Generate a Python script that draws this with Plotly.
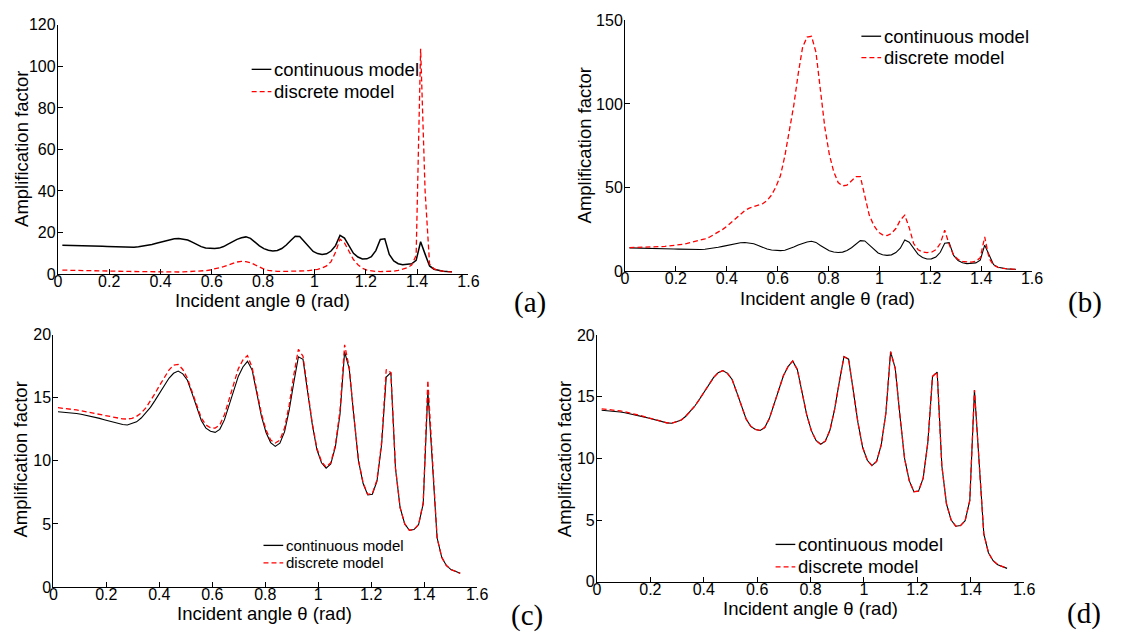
import numpy as np
import plotly.graph_objects as go

# Incident angles sampled every degree (1..88 deg), plotted in radians
angles_deg = list(range(1, 89))
theta = np.radians(angles_deg)

# Continuous model amplification factor (shared by all four panels)
continuous = [
    13.90, 13.88, 13.85, 13.81, 13.76, 13.70, 13.63, 13.55, 13.46, 13.37,
    13.27, 13.17, 13.07, 12.97, 12.88, 12.85, 12.95, 13.10, 13.40, 13.80,
    14.25, 14.80, 15.40, 16.00, 16.55, 16.95, 17.12, 16.90, 16.40, 15.35,
    14.25, 13.20, 12.60, 12.35, 12.26, 12.50, 13.25, 14.40, 15.70, 16.70,
    17.45, 17.90, 17.20, 15.30, 13.55, 12.25, 11.45, 11.15, 11.40, 12.30,
    14.00, 16.20, 18.25, 18.05, 15.50, 12.90, 10.90, 9.85, 9.42, 9.75,
    11.10, 13.70, 18.65, 17.30, 13.50, 10.00, 8.20, 7.30, 7.35, 8.40,
    11.30, 16.65, 17.00, 9.40, 6.30, 5.00, 4.50, 4.55, 4.95, 6.60,
    15.55, 9.60, 3.90, 2.35, 1.70, 1.38, 1.20, 1.08,
]

# Discrete model, panel (a)
discrete_a = [
    1.90, 1.88, 1.85, 1.82, 1.78, 1.74, 1.70, 1.65, 1.60, 1.55,
    1.50, 1.45, 1.40, 1.35, 1.30, 1.25, 1.20, 1.15, 1.10, 1.05,
    1.00, 0.97, 0.95, 0.94, 0.95, 0.97, 1.00, 1.05, 1.12, 1.20,
    1.30, 1.45, 1.65, 1.95, 2.40, 3.00, 3.60, 4.30, 5.10, 5.80,
    6.10, 6.00, 5.50, 4.50, 3.30, 2.40, 1.80, 1.45, 1.30, 1.25,
    1.25, 1.30, 1.35, 1.45, 1.55, 1.70, 1.90, 2.30, 3.00, 3.90,
    6.00, 10.50, 16.80, 15.00, 11.00, 7.00, 4.50, 2.80, 1.90, 1.50,
    1.30, 1.20, 1.15, 1.20, 1.40, 1.80, 2.40, 3.00, 4.30, 9.00,
    108.5, 40.00, 4.80, 2.50, 1.70, 1.35, 1.15, 1.05,
]

# Discrete model, panel (b)
discrete_b = [
    14.10, 14.12, 14.15, 14.20, 14.27, 14.35, 14.50, 14.65, 14.85, 15.05,
    15.30, 15.60, 16.00, 16.60, 17.20, 17.90, 18.70, 19.30, 20.30, 21.70,
    23.30, 25.00, 27.00, 29.20, 31.50, 34.00, 36.30, 37.70, 38.60, 39.20,
    40.30, 42.30, 45.50, 50.50, 57.00, 69.00, 84.00, 99.00, 118.0, 134.0,
    140.0, 140.5, 131.0, 108.0, 86.00, 70.00, 59.50, 53.00, 51.00, 51.50,
    54.00, 56.50, 56.50, 45.50, 33.50, 27.50, 23.50, 21.70, 21.30, 22.50,
    25.50, 30.50, 33.50, 26.00, 16.50, 12.80, 11.40, 11.10, 11.30, 12.80,
    16.50, 24.50, 16.00, 9.50, 7.00, 5.80, 5.40, 5.40, 5.90, 8.00,
    20.50, 7.50, 3.60, 2.30, 1.70, 1.35, 1.15, 1.05,
]

# Discrete model, panel (c)
discrete_c = [
    14.22, 14.19, 14.15, 14.10, 14.04, 13.97, 13.90, 13.82, 13.74, 13.66,
    13.58, 13.50, 13.43, 13.37, 13.33, 13.32, 13.38, 13.53, 13.80, 14.20,
    14.75, 15.35, 16.00, 16.65, 17.20, 17.60, 17.65, 17.25, 16.55, 15.50,
    14.40, 13.40, 12.85, 12.62, 12.60, 12.85, 13.65, 14.85, 16.20, 17.30,
    18.00, 18.35, 17.40, 15.45, 13.75, 12.45, 11.65, 11.42, 11.65, 12.60,
    14.40, 16.80, 18.85, 18.30, 15.60, 13.00, 11.00, 9.95, 9.50, 9.85,
    11.25, 14.00, 19.20, 17.40, 13.60, 10.05, 8.25, 7.35, 7.40, 8.50,
    11.50, 17.25, 17.00, 9.45, 6.30, 5.00, 4.50, 4.55, 4.95, 6.70,
    16.40, 9.70, 3.90, 2.35, 1.70, 1.38, 1.20, 1.08,
]

# Discrete model, panel (d)
discrete_d = [
    14.02, 13.99, 13.95, 13.90, 13.85, 13.78, 13.70, 13.61, 13.51, 13.41,
    13.30, 13.19, 13.08, 12.98, 12.89, 12.85, 12.95, 13.10, 13.40, 13.80,
    14.25, 14.80, 15.40, 16.00, 16.55, 16.95, 17.12, 16.90, 16.40, 15.35,
    14.25, 13.20, 12.60, 12.35, 12.26, 12.50, 13.25, 14.40, 15.70, 16.70,
    17.45, 17.90, 17.20, 15.30, 13.55, 12.25, 11.45, 11.15, 11.40, 12.30,
    14.00, 16.20, 18.25, 18.05, 15.50, 12.90, 10.90, 9.85, 9.42, 9.75,
    11.10, 13.70, 18.65, 17.30, 13.50, 10.00, 8.20, 7.30, 7.35, 8.40,
    11.30, 16.65, 17.00, 9.40, 6.30, 5.00, 4.50, 4.55, 4.95, 6.60,
    15.55, 9.60, 3.90, 2.35, 1.70, 1.38, 1.20, 1.08,
]

x_ticks = [0, 0.2, 0.4, 0.6, 0.8, 1.0, 1.2, 1.4, 1.6]
x_tick_labels = ["0", "0.2", "0.4", "0.6", "0.8", "1", "1.2", "1.4", "1.6"]
y_ticks_a = [0, 20, 40, 60, 80, 100, 120]
y_ticks_b = [0, 50, 100, 150]
y_ticks_cd = [0, 5, 10, 15, 20]

legend_names = ["continuous model", "discrete model"]
panel_tags = ["(a)", "(b)", "(c)", "(d)"]

W, H = 1124, 642
SANS = "Liberation Sans, Arial, Helvetica, sans-serif"
SERIF = "Liberation Serif, Times New Roman, serif"
TICK_SIZE = 16
TITLE_SIZE = 18.5


def px_x(p):
    return p / W


def px_y(p):
    return 1 - p / H


# Plot areas in pixels: (left, right, top, bottom)
boxes = [
    (54.6, 470.7, 17.3, 273.3),
    (629.4, 1042.0, 12.7, 270.3),
    (50.0, 479.6, 335.7, 594.7),
    (601.0, 1034.0, 336.0, 589.3),
]
y_ranges = [[0, 120], [0, 150], [0, 20], [0, 20]]
y_tick_sets = [y_ticks_a, y_ticks_b, y_ticks_cd, y_ticks_cd]
discretes = [discrete_a, discrete_b, discrete_c, discrete_d]
black_widths = [1.5, 1.1, 1.1, 1.1]

fig = go.Figure()
layout = dict(
    width=W, height=H,
    margin=dict(l=0, r=0, t=0, b=0),
    paper_bgcolor="white", plot_bgcolor="white",
    showlegend=False,
    font=dict(family=SANS, color="black"),
)

for i in range(4):
    n = "" if i == 0 else str(i + 1)
    left, right, top, bottom = boxes[i]
    layout["xaxis" + n] = dict(
        domain=[px_x(left), px_x(right)], anchor="y" + n,
        range=[0, 1.6], tickvals=x_ticks, ticktext=x_tick_labels,
        showline=True, linecolor="black", linewidth=1,
        ticks="inside", ticklen=5, tickcolor="black", tickwidth=1,
        showgrid=False, zeroline=False, ticklabelstandoff=-7,
        tickfont=dict(family=SANS, size=TICK_SIZE, color="black"),
    )
    layout["yaxis" + n] = dict(
        domain=[px_y(bottom), px_y(top)], anchor="x" + n,
        range=y_ranges[i], tickvals=y_tick_sets[i],
        showline=True, linecolor="black", linewidth=1,
        ticks="inside", ticklen=5, tickcolor="black", tickwidth=1,
        showgrid=False, zeroline=False, ticklabelstandoff=-2,
        tickfont=dict(family=SANS, size=TICK_SIZE, color="black"),
    )
    fig.add_trace(go.Scatter(
        x=theta, y=continuous, mode="lines", name=legend_names[0],
        xaxis="x" + n, yaxis="y" + n,
        line=dict(color="black", width=black_widths[i]),
    ))
    fig.add_trace(go.Scatter(
        x=theta, y=discretes[i], mode="lines", name=legend_names[1],
        xaxis="x" + n, yaxis="y" + n,
        line=dict(color="red", width=1.3, dash="5px,3px"),
    ))

fig.update_layout(**layout)

annotations = []
shapes = []

# Axis titles
x_title_pos = [(262.5, 300), (835, 298), (264, 622), (817, 617)]
y_title_pos = [(17, 145), (588, 141), (17, 464), (568, 463)]
for (cx, cy) in x_title_pos:
    annotations.append(dict(
        text="Incident angle θ (rad)", x=px_x(cx), y=px_y(cy),
        xref="paper", yref="paper", xanchor="center", yanchor="middle",
        showarrow=False, font=dict(family=SANS, size=TITLE_SIZE, color="black"),
    ))
for (cx, cy) in y_title_pos:
    annotations.append(dict(
        text="Amplification factor", x=px_x(cx), y=px_y(cy),
        xref="paper", yref="paper", xanchor="center", yanchor="middle",
        textangle=-90, showarrow=False,
        font=dict(family=SANS, size=TITLE_SIZE, color="black"),
    ))

# Panel tags
tag_pos = [(533, 302), (1096, 302), (530, 624), (1095, 622)]
for tag, (cx, cy) in zip(panel_tags, tag_pos):
    annotations.append(dict(
        text=tag, x=px_x(cx), y=px_y(cy), xref="paper", yref="paper",
        xanchor="center", yanchor="middle", showarrow=False,
        font=dict(family=SERIF, size=29, color="black"),
    ))

# Legend keys: (sample x0, sample x1, row1 y, row2 y, font size)
legend_pos = [
    (251, 271, 63, 86, 18.5),
    (869, 889, 29, 51, 18.5),
    (263, 283, 552, 570, 15),
    (782, 802, 551, 574, 18.5),
]
for (x0, x1, y1, y2, fs) in legend_pos:
    shapes.append(dict(type="line", xref="paper", yref="paper",
                       x0=px_x(x0), x1=px_x(x1), y0=px_y(y1), y1=px_y(y1),
                       line=dict(color="black", width=1.3)))
    shapes.append(dict(type="line", xref="paper", yref="paper",
                       x0=px_x(x0), x1=px_x(x1), y0=px_y(y2), y1=px_y(y2),
                       line=dict(color="red", width=1.3, dash="5px,3px")))
    for name, yy in zip(legend_names, (y1, y2)):
        annotations.append(dict(
            text=name, x=px_x(x1 + 1), y=px_y(yy), xref="paper", yref="paper",
            xanchor="left", yanchor="middle", showarrow=False,
            font=dict(family=SANS, size=fs, color="black"),
        ))

fig.update_layout(annotations=annotations, shapes=shapes)
fig.write_html("out.html")
